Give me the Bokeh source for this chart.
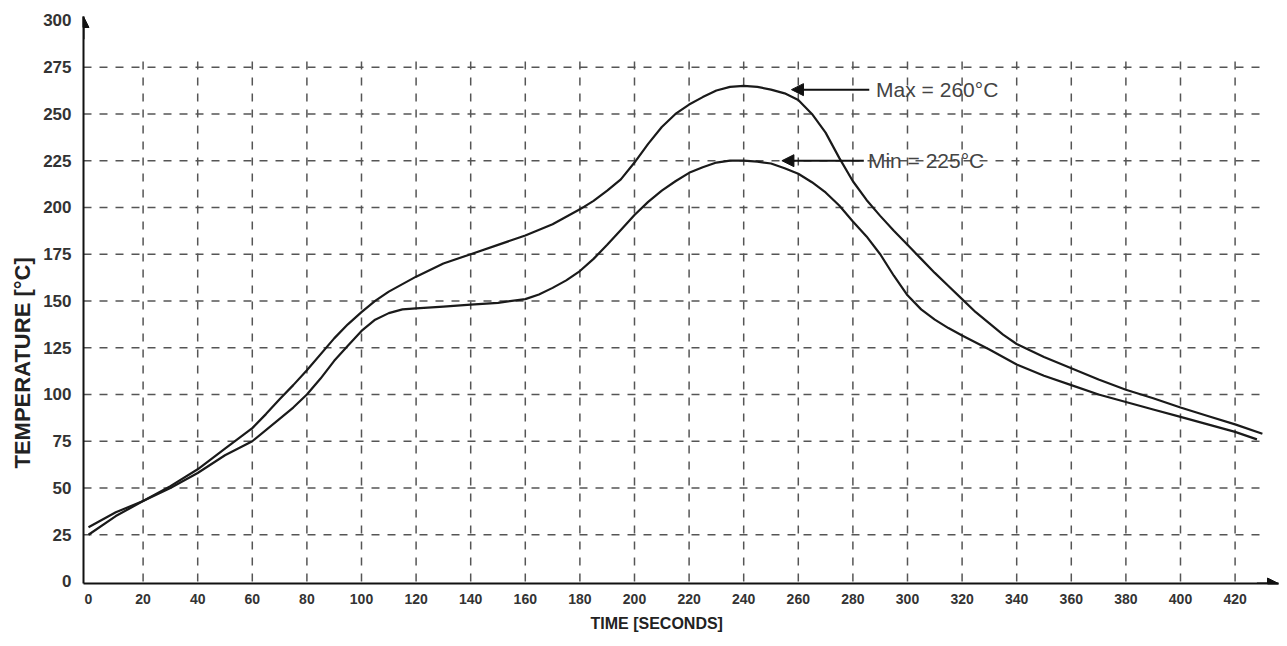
from bokeh.plotting import figure
from bokeh.models import Range1d, FixedTicker, Arrow, NormalHead, Label, Title
from bokeh.embed import file_html
from bokeh.resources import INLINE

# ---- data ----
max_time = [0, 10, 20, 30, 40, 50, 60, 65, 70, 75, 80, 90, 95, 100, 105, 110, 120,
            130, 140, 150, 160, 170, 180, 185, 190, 195, 200, 205, 210, 215, 220,
            225, 230, 235, 240, 245, 250, 255, 260, 265, 270, 275, 280, 285, 290,
            295, 300, 305, 310, 315, 320, 325, 330, 335, 340, 345, 350, 360, 370,
            380, 390, 400, 410, 420, 430]
max_temp = [29, 37, 43, 51, 60, 71, 82, 89.5, 97.5, 105, 113, 130, 137.5, 144, 150,
            155, 163, 170, 175, 180, 185, 191, 199, 203.5, 209, 215, 224, 234, 243,
            250, 255, 259, 262.5, 264.5, 265, 264.5, 263, 261, 257.5, 250, 240, 226.5,
            214, 204, 195.5, 187.5, 180, 172.5, 165, 158, 151, 144, 138, 132, 127,
            123.5, 120, 114, 108, 102.5, 98, 93, 88.5, 84, 79]
min_time = [0, 10, 20, 30, 40, 50, 60, 70, 75, 80, 85, 90, 95, 100, 105, 110, 115,
            120, 130, 140, 150, 160, 165, 170, 175, 180, 185, 190, 195, 200, 205,
            210, 215, 220, 225, 230, 235, 240, 245, 250, 255, 260, 265, 270, 275,
            280, 285, 290, 295, 300, 305, 310, 315, 320, 330, 340, 350, 360, 370,
            380, 390, 400, 410, 420, 428]
min_temp = [25, 35, 43, 50, 58, 67.5, 75, 87, 93, 100, 108.5, 118, 126, 134, 140,
            143.5, 145.5, 146, 147, 148, 149, 151, 153.5, 157, 161, 166, 172.5, 180,
            188, 196, 203, 209, 214, 218.5, 221.5, 224, 225, 225, 224.5, 223.5, 221,
            218, 213.5, 208, 201, 192.5, 184.5, 175, 163.5, 153, 145.5, 140, 135.5,
            131.5, 124, 116, 110, 105, 100, 96, 92, 88, 84, 80, 76]
x_ticks = list(range(0, 421, 20))
y_ticks = list(range(0, 301, 25))
x_label = "TIME [SECONDS]"
y_label = "TEMPERATURE [°C]"
max_note = "Max = 260°C"
min_note = "Min = 225°C"

FONT = "Liberation Sans"

p = figure(width=1279, height=638, output_backend="svg", toolbar_location=None,
           x_range=Range1d(-1.83, 435.9), y_range=Range1d(-1.07, 302.1),
           min_border_left=83, min_border_right=1, min_border_top=16,
           min_border_bottom=55)
p.outline_line_color = None
p.background_fill_color = "white"
p.border_fill_color = "white"
p.xgrid.visible = False
p.ygrid.visible = False

for ax in (p.xaxis[0], p.yaxis[0]):
    ax.major_tick_in = 0
    ax.major_tick_out = 0
    ax.minor_tick_in = 0
    ax.minor_tick_out = 0
    ax.axis_line_width = 2
    ax.axis_line_color = "#111111"
    ax.major_label_text_font = FONT
    ax.major_label_text_font_style = "bold"
    ax.major_label_text_color = "#333333"
p.xaxis[0].major_label_text_font_size = "14px"
p.yaxis[0].major_label_text_font_size = "17px"
p.xaxis[0].ticker = FixedTicker(ticks=x_ticks)
p.yaxis[0].ticker = FixedTicker(ticks=y_ticks)
p.xaxis[0].major_label_standoff = 10
p.yaxis[0].major_label_standoff = 12

# axis titles as titles (so they may sit outside the frame)
p.add_layout(Title(text=x_label, align="left", offset=507, standoff=13,
                   text_font=FONT, text_font_style="bold", text_font_size="16px",
                   text_color="#222222"), "below")
p.add_layout(Title(text=y_label, align="left", offset=115, standoff=12,
                   text_font=FONT, text_font_style="bold", text_font_size="22px",
                   text_color="#222222"), "left")

# dashed grid
gx = x_ticks[1:]
p.segment(x0=gx, y0=[0] * len(gx), x1=gx, y1=[278] * len(gx),
          line_color="#555555", line_width=1.5, line_dash="8 8")
gy = y_ticks[1:-1]
p.segment(x0=[-1.83] * len(gy), y0=gy, x1=[431] * len(gy), y1=gy,
          line_color="#555555", line_width=1.5, line_dash="8 8")

# curves
p.line(max_time, max_temp, line_color="#1a1a1a", line_width=2.2)
p.line(min_time, min_temp, line_color="#1a1a1a", line_width=2.2)

# axis arrows
p.add_layout(Arrow(end=NormalHead(size=11, fill_color="#111111", line_color="#111111"),
                   x_start=428, y_start=-1.07, x_end=435.9, y_end=-1.07,
                   line_color="#111111", line_width=2))
p.add_layout(Arrow(end=NormalHead(size=11, fill_color="#111111", line_color="#111111"),
                   x_start=-1.83, y_start=290, x_end=-1.83, y_end=302.1,
                   line_color="#111111", line_width=2))

# annotation arrows
p.add_layout(Arrow(end=NormalHead(size=12, fill_color="#111111", line_color="#111111"),
                   x_start=286, y_start=263, x_end=257.5, y_end=263,
                   line_color="#111111", line_width=2))
p.add_layout(Arrow(end=NormalHead(size=12, fill_color="#111111", line_color="#111111"),
                   x_start=284, y_start=225, x_end=254, y_end=225,
                   line_color="#111111", line_width=2))
p.add_layout(Label(x=288.5, y=263, text=max_note, text_baseline="middle",
                   text_font=FONT, text_font_size="21px", text_color="#444444"))
p.add_layout(Label(x=285.5, y=225, text=min_note, text_baseline="middle",
                   text_font=FONT, text_font_size="21px", text_color="#444444"))

open("out.html", "w").write(file_html(p, INLINE))
